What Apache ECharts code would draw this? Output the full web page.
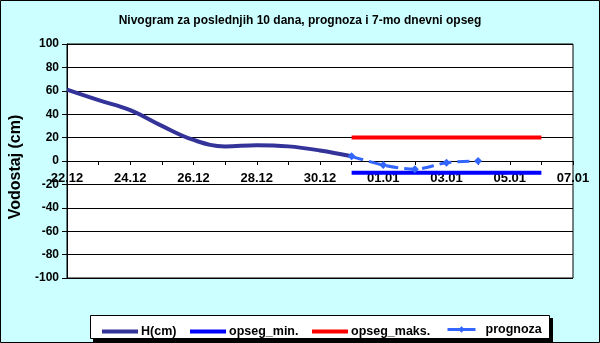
<!DOCTYPE html>
<html><head><meta charset="utf-8">
<script src="https://cdn.jsdelivr.net/npm/echarts@6/dist/echarts.min.js"></script>
<style>html,body{margin:0;padding:0;background:#CCFFFF}#c{width:600px;height:343px;box-sizing:border-box;}</style>
</head><body><div id="c"></div>
<script>
var categories = ['22.12','23.12','24.12','25.12','26.12','27.12','28.12','29.12','30.12','31.12','01.01','02.01','03.01','04.01','05.01','06.01','07.01'];
var hCm      = [61, 52, 43.5, 30, 18, 12.5, 13.5, 12.5, 9, 4, null, null, null, null, null, null, null];
var opsegMin = [null, null, null, null, null, null, null, null, null, -10, -10, -10, -10, -10, -10, -10, null];
var opsegMax = [null, null, null, null, null, null, null, null, null, 20, 20, 20, 20, 20, 20, 20, null];
var prognoza = [null, null, null, null, null, null, null, null, null, 4, -3.5, -7, -1.5, 0, null, null, null];
var yTicks = [-100, -80, -60, -40, -20, 0, 20, 40, 60, 80, 100];

var FONT = 'Arial, "Liberation Sans", sans-serif';
var chart = echarts.init(document.getElementById('c'), null, {renderer: 'canvas'});
function lg(name, left, w, h, icon, extra) {
  var o = {
    data: [name], left: left, top: 327 - h / 2, itemWidth: w, itemHeight: h, itemGap: 0,
    padding: 0,
    textStyle: {fontFamily: FONT, fontWeight: 'bold', fontSize: 12.5, color: '#000', padding: [0, 0, 0, -2]}
  };
  if (icon) o.icon = icon;
  if (extra) for (var k in extra) o[k] = extra[k];
  return o;
}
chart.setOption({
  backgroundColor: '#CCFFFF',
  animation: false,
  title: {
    text: 'Nivogram za poslednjih 10 dana, prognoza i 7-mo dnevni opseg',
    left: 'center', top: 15, padding: 0,
    textStyle: {fontFamily: FONT, fontWeight: 'bold', fontSize: 12, color: '#000'}
  },
  graphic: [
    {type: 'rect', shape: {x: 0.5, y: 0.5, width: 599, height: 342}, style: {fill: 'none', stroke: '#000', lineWidth: 1}, z: 100},
    {type: 'rect', shape: {x: 93, y: 318, width: 460, height: 24}, style: {fill: '#000'}, z: -1},
    {type: 'rect', shape: {x: 90.5, y: 315.5, width: 459, height: 23}, style: {fill: '#fff', stroke: '#000', lineWidth: 1}, z: 0}
  ],
  legend: [
    lg('H(cm)', 102, 36, 4, 'rect'),
    lg('opseg_min.', 190, 36, 4, 'rect'),
    lg('opseg_maks.', 312, 36, 4, 'rect'),
    lg('prognoza', 446, 28, 8, null, {lineStyle: {width: 3, type: 'solid'}, textStyle: {fontFamily: FONT, fontWeight: 'bold', fontSize: 12.5, color: '#000', padding: [0, 0, 0, 5]}})
  ],
  grid: {left: 67, right: 27, top: 44, bottom: 65, show: true, backgroundColor: '#fff', borderColor: '#000', borderWidth: 1},
  xAxis: {
    type: 'category', data: categories, boundaryGap: false, position: 'bottom', offset: -117,
    axisLine: {onZero: false, lineStyle: {color: '#000', width: 1}},
    axisTick: {show: true, length: 4, lineStyle: {color: '#000'}, interval: 0},
    axisLabel: {interval: 1, fontFamily: FONT, fontWeight: 'bold', fontSize: 13, color: '#000', margin: 11},
    splitLine: {show: false}
  },
  yAxis: {
    type: 'value', min: yTicks[0], max: yTicks[yTicks.length - 1], interval: 20,
    name: 'Vodostaj (cm)', nameLocation: 'middle', nameGap: 43, nameRotate: 90,
    nameTextStyle: {fontFamily: FONT, fontWeight: 'bold', fontSize: 16, color: '#000', padding: [0, 12, 0, 0]},
    axisLine: {show: true, lineStyle: {color: '#000'}},
    axisTick: {show: true, length: 5, lineStyle: {color: '#000'}},
    axisLabel: {fontFamily: FONT, fontWeight: 'bold', fontSize: 12, color: '#000', margin: 8},
    splitLine: {show: true, lineStyle: {color: '#000', width: 1}}
  },
  series: [
    {name: 'H(cm)', type: 'line', data: hCm, smooth: 0.4, symbol: 'none', connectNulls: false,
     lineStyle: {color: '#333399', width: 4}, itemStyle: {color: '#333399'}},
    {name: 'opseg_min.', type: 'line', data: opsegMin, symbol: 'none',
     lineStyle: {color: '#0000FF', width: 4}, itemStyle: {color: '#0000FF'}},
    {name: 'opseg_maks.', type: 'line', data: opsegMax, symbol: 'none',
     lineStyle: {color: '#FF0000', width: 4}, itemStyle: {color: '#FF0000'}},
    {name: 'prognoza', type: 'line', data: prognoza, smooth: 0.3, symbol: 'diamond', symbolSize: 8,
     lineStyle: {color: '#3366FF', width: 3, type: [12, 6]}, itemStyle: {color: '#3366FF'}}
  ]
});
</script></body></html>
